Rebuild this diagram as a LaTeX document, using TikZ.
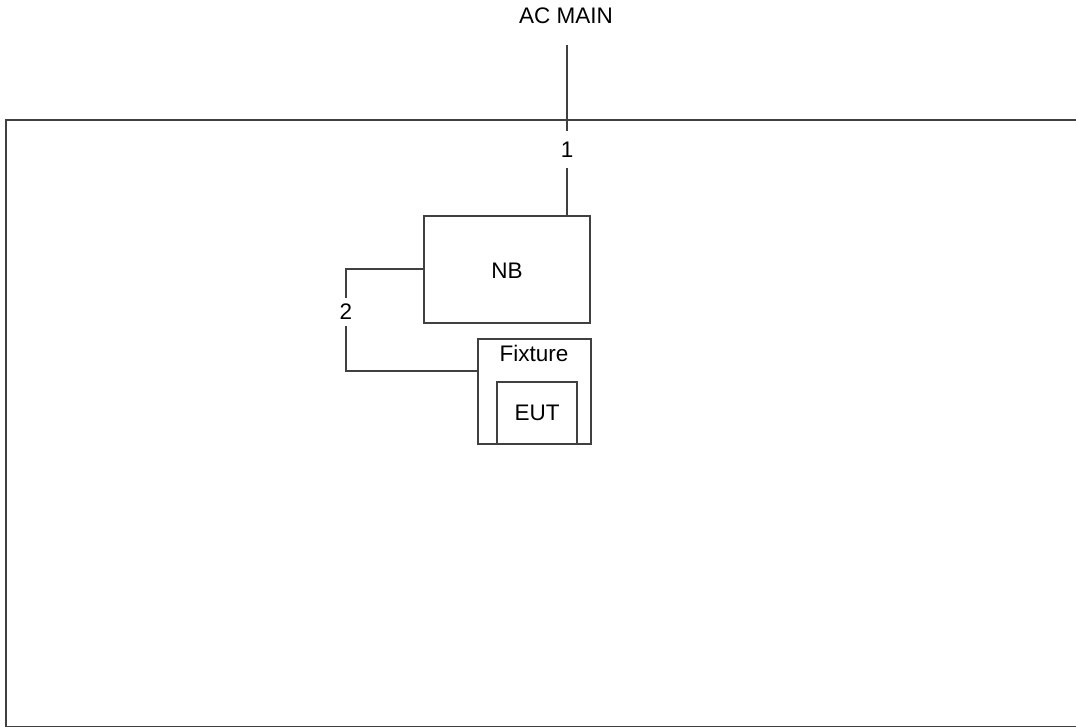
\documentclass[tikz,border=0pt]{standalone}
\usepackage{fontspec}
\setmainfont{Liberation Sans}
\definecolor{ln}{HTML}{404040}
\begin{document}
\begin{tikzpicture}[x=1pt,y=-1pt,
  every node/.style={font=\fontsize{22.5}{26}\selectfont, text=black},
  box/.style={draw=ln, line width=1.6pt, rectangle, inner sep=0pt},
  wire/.style={draw=ln, line width=1.6pt},
  lbl/.style={inner sep=0pt, minimum width=14pt}]
\useasboundingbox (0,0) rectangle (1076,728);
\begin{scope}
\clip (0,0) rectangle (1076,728);
\draw[wire] (6,120) rectangle (1090,726.5);
\end{scope}
\node[box, minimum width=166pt, minimum height=107pt] (nb) at (507,269.5) {};
\node at (507,271) {NB};
\node[box, minimum width=113pt, minimum height=105pt] (fix) at (534.5,391.5) {};
\node (fixlbl) at (534,353) {Fixture};
\node[box, minimum width=80pt, minimum height=62pt] (eut) at (537,413) {EUT};
\node (ac) at (566,16) {AC MAIN};
\coordinate (actop) at (567,45);
\node[lbl, minimum height=37pt] (n1) at (567,149.5) {1};
\node[lbl, minimum height=28pt] (n2) at (346,312) {2};
\draw[wire] (actop) -- (n1.north);
\draw[wire] (n1.south) -- (n1.south |- nb.north);
\draw[wire] (nb.west |- 0,269) -| (n2.north);
\draw[wire] (n2.south) |- (fix.west |- 0,371);
\end{tikzpicture}
\end{document}
